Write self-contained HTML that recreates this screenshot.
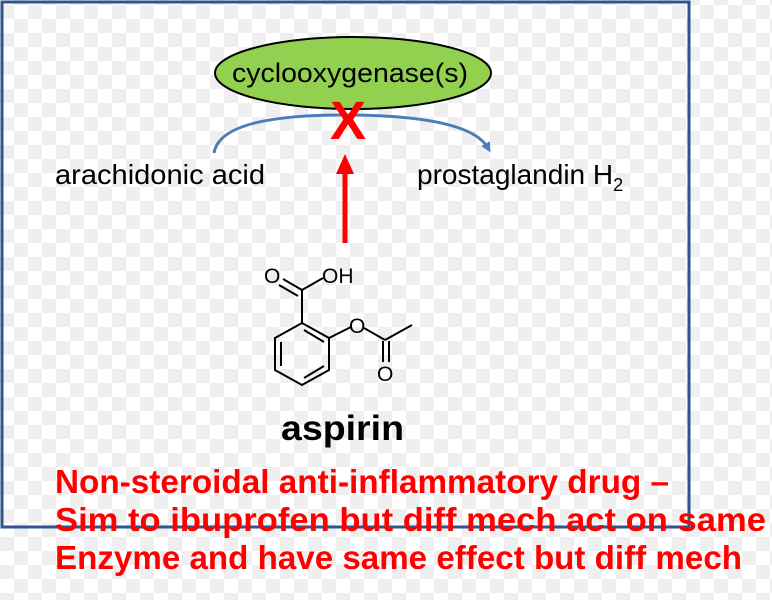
<!DOCTYPE html>
<html><head><meta charset="utf-8"><style>
html,body{margin:0;padding:0;}
body{width:772px;height:600px;overflow:hidden;background-color:#fff;
background-image:conic-gradient(#efefef 25%,#fff 0 50%,#efefef 0 75%,#fff 0);
background-size:28px 28px;background-position:0 -9px;}
svg{position:absolute;left:0;top:0;}
</style></head><body>
<svg width="772" height="600" viewBox="0 0 772 600" xmlns="http://www.w3.org/2000/svg" font-family="Liberation Sans, Arial, sans-serif">
<rect x="2" y="2" width="687" height="525" fill="none" stroke="#2f5490" stroke-width="3"/>
<defs><marker id="ah" markerWidth="10" markerHeight="10" refX="5" refY="5" orient="auto" markerUnits="userSpaceOnUse"><path d="M0,0 L10,5 L0,10 z" fill="#4a7ebb"/></marker></defs>
<path d="M214,153 Q220,114 350,115 Q470,116 488,148" fill="none" stroke="#4a7ebb" stroke-width="3" marker-end="url(#ah)"/>
<ellipse cx="353" cy="73" rx="138" ry="36" fill="#92d050" stroke="#000" stroke-width="2"/>
<text x="350" y="82" font-size="27" text-anchor="middle" fill="#000" textLength="236" lengthAdjust="spacingAndGlyphs">cyclooxygenase(s)</text>
<text x="348" y="139" font-size="54" font-weight="bold" text-anchor="middle" fill="#f00">X</text>
<line x1="345" y1="243" x2="345" y2="170" stroke="#f00" stroke-width="5"/>
<path d="M336,174 L345,154 L354,174 z" fill="#f00"/>
<text x="55" y="184" font-size="28" fill="#000" textLength="210" lengthAdjust="spacingAndGlyphs">arachidonic acid</text>
<text x="417" y="184" font-size="28" fill="#000">prostaglandin H<tspan font-size="18" dy="7">2</tspan></text>
<g stroke="#000" stroke-width="2" fill="none">
<path d="M302,323 L329,338 L329,370 L302,385 L275,370 L275,338 Z"/>
<line x1="281" y1="342" x2="281" y2="366"/>
<line x1="304" y1="378" x2="324" y2="366"/>
<line x1="304" y1="330" x2="324" y2="342"/>
<line x1="302" y1="323" x2="302" y2="290"/>
<line x1="302" y1="290" x2="283" y2="279"/>
<line x1="298" y1="296" x2="279" y2="285"/>
<line x1="302" y1="290" x2="323" y2="278"/>
<line x1="329" y1="338" x2="351" y2="327"/>
<line x1="364" y1="328" x2="385" y2="340"/>
<line x1="385" y1="340" x2="412" y2="325"/>
<line x1="383" y1="341" x2="383" y2="362"/>
<line x1="389" y1="341" x2="389" y2="362"/>
</g>
<g font-size="21" fill="#000">
<text x="264" y="283">O</text>
<text x="322" y="283">OH</text>
<text x="349" y="333">O</text>
<text x="377" y="381">O</text>
</g>
<text x="281" y="440" font-size="35" font-weight="bold" fill="#000" textLength="123" lengthAdjust="spacingAndGlyphs">aspirin</text>
<g font-size="33" font-weight="bold" fill="#f00">
<text x="55" y="493" textLength="614" lengthAdjust="spacingAndGlyphs">Non-steroidal  anti-inflammatory  drug –</text>
<text x="55" y="531" textLength="711" lengthAdjust="spacingAndGlyphs">Sim to ibuprofen but diff mech act on same</text>
<text x="55" y="569" textLength="687" lengthAdjust="spacingAndGlyphs">Enzyme and have same effect but diff mech</text>
</g>
</svg>
</body></html>
